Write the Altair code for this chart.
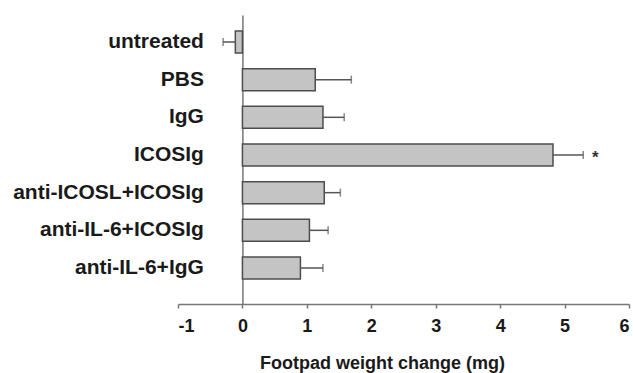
import altair as alt
import pandas as pd

categories = ["untreated", "PBS", "IgG", "ICOSIg", "anti-ICOSL+ICOSIg",
              "anti-IL-6+ICOSIg", "anti-IL-6+IgG"]
means = [-0.11, 1.13, 1.25, 4.82, 1.27, 1.04, 0.90]
err_ends = [-0.30, 1.69, 1.58, 5.29, 1.52, 1.33, 1.25]
marks = ["", "", "", "*", "", "", ""]

x_ticks = [-1, 0, 1, 2, 3, 4, 5, 6]

df = pd.DataFrame({"cat": categories, "mean": means, "err": err_ends, "mark": marks})

FONT = "Liberation Sans"

xscale = alt.Scale(domain=[-1, 6], nice=False, zero=False)
yscale = alt.Scale(domain=categories, paddingInner=0.416, paddingOuter=0.544, align=0.39)

y_enc = alt.Y("cat:N", scale=yscale, sort=categories,
              axis=alt.Axis(title=None, ticks=False, labelPadding=39, offset=-64.4,
                            domainColor="#777777", domainWidth=1.5,
                            labelFont=FONT, labelFontSize=21, labelFontWeight="bold",
                            labelColor="#1a1a1a", labelLimit=400))

x_enc = alt.X("mean:Q", scale=xscale,
              axis=alt.Axis(values=x_ticks, title="Footpad weight change (mg)",
                            grid=False, domainColor="#777777", domainWidth=1.5,
                            tickColor="#777777", tickWidth=1.5, tickSize=4,
                            labelFont=FONT, labelFontSize=18, labelFontWeight="bold",
                            labelColor="#1a1a1a", labelPadding=9,
                            labelExpr="'' + datum.value",
                            titleFont=FONT, titleFontSize=18, titleFontWeight="bold",
                            titleColor="#1a1a1a", titleX=204, titleY=64,
                            titleBaseline="alphabetic"))

bars = alt.Chart(df).mark_bar(fill="#c4c4c4", stroke="#4d4d4d", strokeWidth=1.5).encode(
    x=x_enc, y=y_enc
)

rules = alt.Chart(df).mark_rule(color="#555555", strokeWidth=1.5).encode(
    x=alt.X("mean:Q", scale=xscale), x2="err:Q", y=alt.Y("cat:N", scale=yscale, sort=categories)
)

caps = alt.Chart(df).mark_tick(color="#555555", thickness=1.5, size=8, orient="vertical").encode(
    x=alt.X("err:Q", scale=xscale), y=alt.Y("cat:N", scale=yscale, sort=categories)
)

stars = alt.Chart(df).mark_text(font=FONT, fontSize=17, fontWeight="bold", color="#333333",
                                dx=12, dy=3, align="center").encode(
    x=alt.X("err:Q", scale=xscale), y=alt.Y("cat:N", scale=yscale, sort=categories),
    text="mark:N"
)

chart = alt.layer(bars, rules, caps, stars).properties(
    width=451, height=289,
    autosize=alt.AutoSizeParams(type="none"),
    padding={"left": 178, "top": 15, "right": 6, "bottom": 69},
    background="white",
).configure_view(stroke=None)

chart.save("out.html", embed_options={"renderer": "svg", "actions": False})
